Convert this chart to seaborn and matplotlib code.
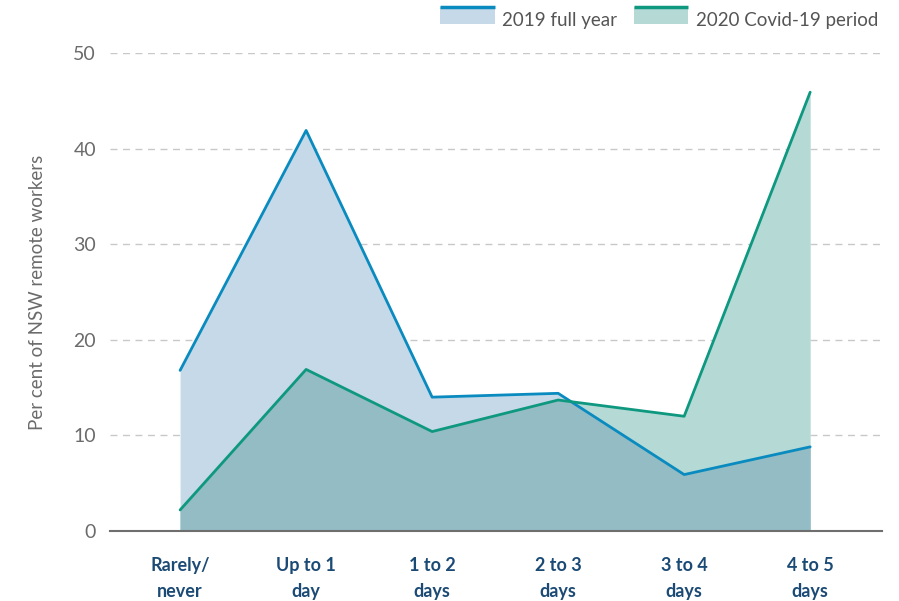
import numpy as np
import pandas as pd
import matplotlib
matplotlib.use("Agg")
import matplotlib.pyplot as plt
import seaborn as sns
from matplotlib.patches import Rectangle
from matplotlib.lines import Line2D

categories = ["Rarely/\nnever", "Up to 1\nday", "1 to 2\ndays", "2 to 3\ndays", "3 to 4\ndays", "4 to 5\ndays"]
share_2019 = [16.8, 41.9, 14.0, 14.4, 5.9, 8.8]
share_2020 = [2.2, 16.9, 10.4, 13.7, 12.0, 45.9]
series_names = ["2019 full year", "2020 Covid-19 period"]

line_2019, fill_2019 = "#0a8bbf", "#c5d9e8"
line_2020, fill_2020 = "#0f9880", "#b5dad6"
fill_both = "#93bcc4"

sns.set_theme(style="white")
plt.rcParams["font.family"] = ["Lato", "DejaVu Sans"]

df = pd.DataFrame({"pos": np.arange(len(categories)),
                   series_names[0]: share_2019,
                   series_names[1]: share_2020})
long = df.melt(id_vars="pos", var_name="series", value_name="share")

fig = plt.figure(figsize=(8.99, 6.01), dpi=100)
ax = fig.add_axes([0.1224, 0.1165, 0.8587, 0.7953])

x = df["pos"].to_numpy()
a = np.array(share_2019)
b = np.array(share_2020)
ax.fill_between(x, 0, a, color=fill_2019, lw=0, zorder=1)
ax.fill_between(x, 0, b, color=fill_2020, lw=0, zorder=1)
# overlap region: fine interpolation so the crossing looks right
xf = np.linspace(x[0], x[-1], 2001)
ax.fill_between(xf, 0, np.minimum(np.interp(xf, x, a), np.interp(xf, x, b)),
                color=fill_both, lw=0, zorder=2)

sns.lineplot(data=long, x="pos", y="share", hue="series",
             palette=[line_2019, line_2020], linewidth=2, ax=ax,
             legend=False, zorder=3)

grey = "#6b6b6b"
ax.set_xlim(-0.556, 5.57)
ax.set_ylim(0, 50)
ax.set_yticks([0, 10, 20, 30, 40, 50])
ax.set_xticks(x)
ax.set_xticklabels(categories, fontsize=13, fontweight="bold", color="#1b4a75",
                   linespacing=1.6)
ax.tick_params(axis="y", labelsize=14, labelcolor=grey, length=0, pad=10)
ax.tick_params(axis="x", length=0, pad=19)

ax.grid(axis="y", color="#c8c8c8", linestyle=(0, (5, 4)), linewidth=1)
ax.set_axisbelow(True)
for s in ["top", "right", "left"]:
    ax.spines[s].set_visible(False)
ax.spines["bottom"].set_color("#6e6e6e")
ax.spines["bottom"].set_linewidth(1.5)
ax.spines["bottom"].set_zorder(4)

ax.set_xlabel("")
ax.set_ylabel("Per cent of NSW remote workers", fontsize=13.5, color=grey,
              labelpad=20)


class AreaHandler:
    def __init__(self, face, edge):
        self.face, self.edge = face, edge

    def legend_artist(self, legend, orig_handle, fontsize, handlebox):
        x0, y0 = handlebox.xdescent, handlebox.ydescent
        w, h = handlebox.width, handlebox.height
        rect = Rectangle((x0, y0), w, h, facecolor=self.face, edgecolor="none",
                         transform=handlebox.get_transform())
        top = Line2D([x0, x0 + w], [y0 + h, y0 + h], color=self.edge, lw=2.5,
                     solid_capstyle="butt", transform=handlebox.get_transform())
        handlebox.add_artist(rect)
        handlebox.add_artist(top)
        return rect


h1 = Rectangle((0, 0), 1, 1)
h2 = Rectangle((0, 0), 1, 1)
leg = ax.legend([h1, h2], series_names,
                handler_map={h1: AreaHandler(fill_2019, line_2019),
                             h2: AreaHandler(fill_2020, line_2020)},
                loc="lower right", bbox_to_anchor=(1.005, 1.035), ncol=2,
                frameon=False, fontsize=13.5, handlelength=2.9, handleheight=1.0,
                handletextpad=0.4, columnspacing=0.9, borderaxespad=0.0)
for t in leg.get_texts():
    t.set_color("#555555")

fig.savefig("out.png", dpi=100)
